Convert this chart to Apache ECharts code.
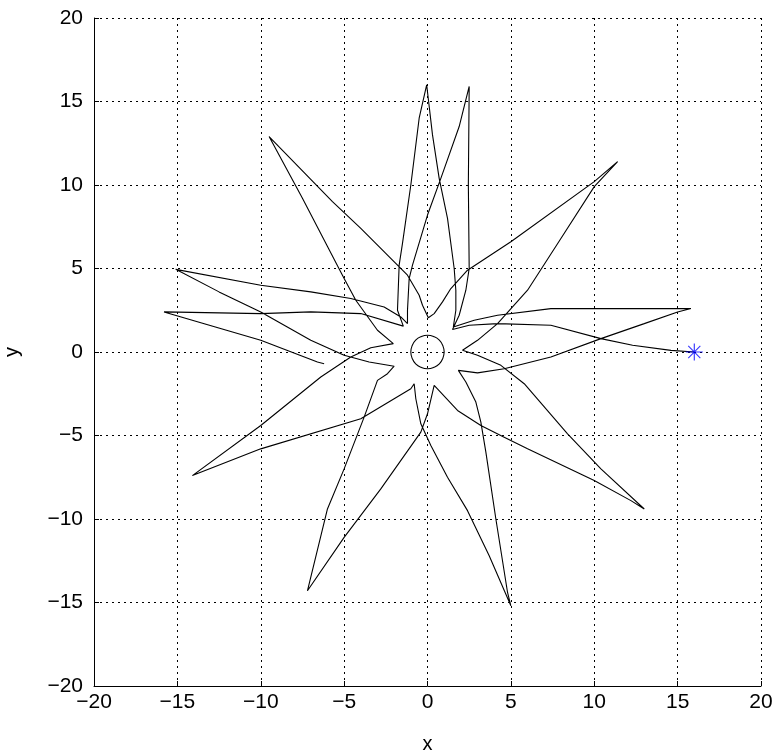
<!DOCTYPE html>
<html>
<head>
<meta charset="utf-8">
<script src="https://cdn.jsdelivr.net/npm/echarts@6/dist/echarts.min.js"></script>
<style>
  html, body { margin: 0; padding: 0; background: #fff; }
  #chart { width: 781px; height: 755px; }
</style>
</head>
<body>
<div id="chart"></div>
<script>
// tick labels of both axes
var xTicks = [-20, -15, -10, -5, 0, 5, 10, 15, 20];
var yTicks = [-20, -15, -10, -5, 0, 5, 10, 15, 20];

// trajectory (starts at the blue star)
var orbit = [
  // start -> inner turn -> tip (2.5, 15.9)
  [16.0, 0.0], [14.6, 0.1], [12.3, 0.4], [10.4, 0.8], [7.4, 1.6], [4.2, 1.7], [2.5, 1.6], [1.5, 1.35],
  [1.9, 2.2], [2.3, 3.7], [2.5, 5.0], [2.45, 10.0], [2.5, 15.9],
  // -> tip (-15.1, 5)
  [1.9, 13.5], [0.8, 10.4], [0.0, 8.2], [-0.9, 5.2], [-1.1, 4.4], [-1.2, 2.5], [-1.2, 1.7],
  [-1.6, 2.1], [-2.6, 2.7], [-4.6, 3.2], [-7.0, 3.6], [-10.0, 4.0], [-15.1, 4.95],
  // -> tip (-7.2, -14.3)
  [-12.5, 3.6], [-10.0, 2.4], [-7.0, 0.7], [-5.0, -0.2], [-3.5, -0.6], [-2.0, -0.85],
  [-2.4, -1.3], [-3.0, -1.7], [-3.8, -3.9], [-5.0, -7.0], [-6.0, -9.4], [-7.2, -14.3],
  // -> tip (13, -9.4)
  [-5.0, -11.1], [-2.8, -8.2], [-0.4, -4.8], [0.0, -3.7], [0.4, -2.0],
  [1.8, -3.5], [3.2, -4.4], [4.6, -5.1], [6.0, -5.8], [10.0, -7.7], [12.2, -8.9], [13.0, -9.4],
  // -> tip (11.4, 11.4)
  [10.4, -7.0], [8.4, -4.9], [5.8, -1.9], [4.4, -0.8], [3.0, -0.2], [2.1, 0.1],
  [3.0, 0.7], [4.2, 1.7], [6.0, 3.7], [8.0, 6.8], [10.0, 9.9], [11.4, 11.4],
  // -> tip (-9.5, 12.9)
  [10.0, 10.2], [5.0, 6.6], [2.4, 4.9], [1.4, 3.8], [0.9, 3.0], [0.4, 2.3], [0.05, 2.05],
  [-0.3, 2.8], [-0.5, 3.4], [-1.2, 4.6], [-4.0, 7.4], [-5.7, 9.0], [-9.5, 12.9],
  // -> tip (-14.1, -7.4)
  [-7.5, 9.2], [-5.0, 4.4], [-4.3, 3.1], [-3.0, 1.3], [-2.05, 0.5],
  [-3.4, 0.25], [-4.6, -0.3], [-6.4, -1.5], [-10.0, -4.4], [-14.1, -7.4],
  // -> tip (5, -15.2)
  [-10.0, -5.8], [-4.0, -4.0], [-1.0, -2.2], [-0.8, -1.9],
  [-0.7, -2.8], [-0.4, -4.3], [0.2, -5.6], [1.2, -7.5], [2.4, -9.5], [3.7, -12.2], [5.0, -15.2],
  // -> tip (15.8, 2.6)
  [4.8, -14.4], [4.1, -10.0], [3.5, -6.0], [3.2, -4.2], [2.9, -3.0], [2.3, -1.8], [1.85, -1.1],
  [3.0, -1.25], [4.6, -1.0], [7.4, -0.3], [10.4, 0.8], [13.0, 1.7], [15.0, 2.4], [15.8, 2.6],
  // -> tip (0, 16)
  [12.0, 2.6], [7.4, 2.6], [4.2, 2.2], [2.8, 1.9], [1.55, 1.5],
  [1.7, 2.5], [1.7, 3.7], [1.6, 5.0], [1.2, 8.0], [0.7, 10.4], [0.3, 13.0], [-0.05, 16.0],
  // -> tip (-15.8, 2.4)
  [-0.5, 14.0], [-1.0, 10.0], [-1.5, 6.5], [-1.7, 5.2], [-1.8, 2.5], [-1.45, 1.55],
  [-4.0, 2.3], [-7.0, 2.4], [-10.0, 2.3], [-15.8, 2.4],
  // last stretch, stops short of the centre
  [-10.0, 0.7], [-6.6, -0.6], [-6.2, -0.7]
];

// small ring round the origin
var ring = [
  [1.0, 0.0], [0.92, 0.38], [0.71, 0.71], [0.38, 0.92], [0.0, 1.0], [-0.38, 0.92],
  [-0.71, 0.71], [-0.92, 0.38], [-1.0, 0.0], [-0.92, -0.38], [-0.71, -0.71], [-0.38, -0.92],
  [0.0, -1.0], [0.38, -0.92], [0.71, -0.71], [0.92, -0.38], [1.0, 0.0]
];

// blue star marker
var startPoint = [[16.0, 0.0]];

var starPath = 'path://M-0.6,-9 L0.6,-9 L0.6,9 L-0.6,9 Z M-9,-0.6 L9,-0.6 L9,0.6 L-9,0.6 Z ' +
  'M-6.8,-6 L-6,-6.8 L6.8,6 L6,6.8 Z M6,-6.8 L6.8,-6 L-6,6.8 L-6.8,6 Z';

var fontFam = '"Liberation Sans", Arial, Helvetica, sans-serif';

function fmt(v) {
  return String(v).replace('-', '\u2212');
}

var myChart = echarts.init(document.getElementById('chart'));

var option = {
  animation: false,
  backgroundColor: '#ffffff',
  grid: {
    left: 94,
    top: 18,
    width: 667,
    height: 668,
    containLabel: false,
    outerBoundsMode: 'none'
  },
  xAxis: {
    type: 'value',
    min: xTicks[0],
    max: xTicks[xTicks.length - 1],
    interval: 5,
    name: 'x',
    nameLocation: 'middle',
    nameGap: 48,
    nameTextStyle: { color: '#000', fontSize: 20, fontFamily: fontFam },
    axisLine: { show: true, onZero: false, lineStyle: { color: '#000', width: 1 } },
    axisTick: { show: true, inside: true, length: 5, lineStyle: { color: '#000' } },
    axisLabel: { color: '#000', fontSize: 21, fontFamily: fontFam, margin: 6, formatter: fmt },
    splitLine: { show: true, lineStyle: { color: '#000', width: 1, type: [2, 4] } }
  },
  yAxis: {
    type: 'value',
    min: yTicks[0],
    max: yTicks[yTicks.length - 1],
    interval: 5,
    name: 'y',
    nameLocation: 'middle',
    nameGap: 72,
    nameRotate: 90,
    nameTextStyle: { color: '#000', fontSize: 20, fontFamily: fontFam },
    axisLine: { show: true, onZero: false, lineStyle: { color: '#000', width: 1 } },
    axisTick: { show: true, inside: true, length: 5, lineStyle: { color: '#000' } },
    axisLabel: { color: '#000', fontSize: 21, fontFamily: fontFam, margin: 11, formatter: fmt },
    splitLine: { show: true, lineStyle: { color: '#000', width: 1, type: [2, 4] } }
  },
  series: [
    {
      name: 'orbit',
      type: 'line',
      data: orbit,
      showSymbol: false,
      symbol: 'none',
      smooth: false,
      lineStyle: { color: '#000', width: 1.1 },
      z: 3
    },
    {
      name: 'ring',
      type: 'line',
      data: ring,
      showSymbol: false,
      symbol: 'none',
      smooth: true,
      lineStyle: { color: '#000', width: 1.1 },
      z: 3
    },
    {
      name: 'start',
      type: 'scatter',
      data: startPoint,
      symbol: starPath,
      symbolSize: 17,
      itemStyle: { color: '#0000ff' },
      z: 4
    }
  ]
};

myChart.setOption(option);
</script>
</body>
</html>
